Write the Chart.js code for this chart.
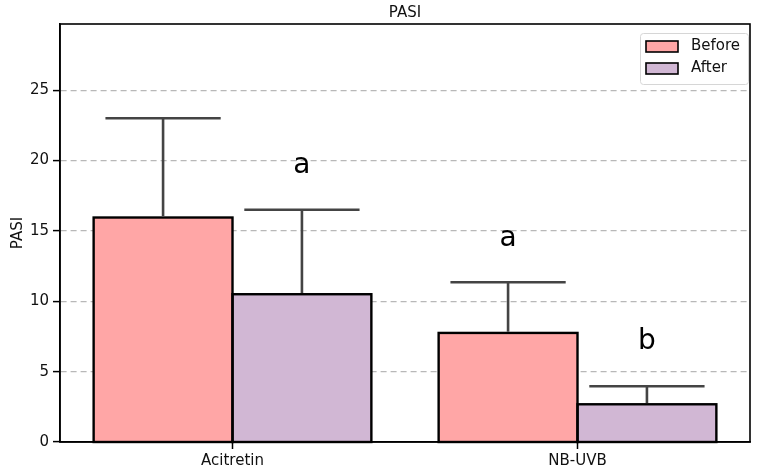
<!DOCTYPE html>
<html>
<head>
<meta charset="utf-8">
<script src="https://cdn.jsdelivr.net/npm/chart.js@4/dist/chart.umd.min.js"></script>
<style>
html,body{margin:0;padding:0;background:#fff;}
canvas{display:block;}
</style>
</head>
<body>
<canvas id="c" width="766" height="473"></canvas>
<script>
const categories = ['Acitretin', 'NB-UVB'];
const seriesLabels = ['Before', 'After'];
const beforeValues = [15.95, 7.75];
const afterValues = [10.5, 2.68];
const beforeErrTop = [23.0, 11.35];
const afterErrTop = [16.5, 3.96];
const beforeLetters = ['', 'a'];
const afterLetters = ['a', 'b'];
const beforeLetterY = [null, 13.96];
const afterLetterY = [19.1, 6.58];
const yTickValues = [0, 5, 10, 15, 20, 25];
const chartTitle = 'PASI';
const yAxisTitle = 'PASI';

const FONT = "'DejaVu Sans', sans-serif";
const TXT = '#111111';
const colors = ['#ffa6a6', '#d1b7d4'];

const extras = {
  id: 'extras',
  afterDatasetsDraw(chart) {
    const ctx = chart.ctx;
    const y = chart.scales.y;
    const base = y.getPixelForValue(0);
    const errs = [beforeErrTop, afterErrTop];
    const letters = [beforeLetters, afterLetters];
    const letterY = [beforeLetterY, afterLetterY];
    ctx.save();
    chart.data.datasets.forEach((ds, di) => {
      chart.getDatasetMeta(di).data.forEach(bar => {
        ctx.strokeStyle = '#000';
        ctx.lineWidth = 2.4;
        ctx.strokeRect(bar.x - bar.width / 2, bar.y, bar.width, base - bar.y);
      });
    });
    chart.data.datasets.forEach((ds, di) => {
      const meta = chart.getDatasetMeta(di);
      meta.data.forEach((bar, i) => {
        const x = bar.x;
        const half = bar.width * 0.415;
        const yTop = y.getPixelForValue(errs[di][i]);
        ctx.strokeStyle = '#444444';
        ctx.lineWidth = 2.6;
        ctx.lineCap = 'butt';
        ctx.beginPath();
        ctx.moveTo(x, bar.y - 1.2);
        ctx.lineTo(x, yTop);
        ctx.moveTo(x - half, yTop);
        ctx.lineTo(x + half, yTop);
        ctx.stroke();
        const L = letters[di][i];
        if (L) {
          ctx.fillStyle = '#000';
          ctx.font = '28px ' + FONT;
          ctx.textAlign = 'center';
          ctx.textBaseline = 'alphabetic';
          ctx.fillText(L, x, y.getPixelForValue(letterY[di][i]));
        }
      });
    });
    ctx.restore();
  },
  afterDraw(chart) {
    const ctx = chart.ctx;
    const a = chart.chartArea;
    ctx.save();
    ctx.strokeStyle = '#000';
    ctx.lineWidth = 1.6;
    ctx.strokeRect(a.left, a.top, a.right - a.left, a.bottom - a.top);
    ctx.fillStyle = TXT;
    ctx.font = '15px ' + FONT;
    ctx.textAlign = 'center';
    ctx.textBaseline = 'middle';
    ctx.fillText(chartTitle, (a.left + a.right) / 2, 13);
    const bx = a.right - 110, by = a.top + 9, bw = 108, bh = 51;
    ctx.fillStyle = 'rgba(255,255,255,0.85)';
    ctx.strokeStyle = '#d6d6d6';
    ctx.lineWidth = 1;
    ctx.beginPath();
    if (ctx.roundRect) ctx.roundRect(bx + 0.5, by + 0.5, bw, bh, 3); else ctx.rect(bx + 0.5, by + 0.5, bw, bh);
    ctx.fill();
    ctx.stroke();
    chart.data.datasets.forEach((ds, di) => {
      const sy = by + 8 + di * 22;
      ctx.fillStyle = ds.backgroundColor;
      ctx.fillRect(bx + 6, sy, 32, 11);
      ctx.strokeStyle = '#000';
      ctx.lineWidth = 1.6;
      ctx.strokeRect(bx + 6, sy, 32, 11);
      ctx.fillStyle = TXT;
      ctx.font = '15px ' + FONT;
      ctx.textAlign = 'left';
      ctx.textBaseline = 'middle';
      ctx.fillText(ds.label, bx + 51, sy + 5.5);
    });
    ctx.restore();
  }
};

new Chart(document.getElementById('c'), {
  type: 'bar',
  data: {
    labels: categories,
    datasets: [
      { label: seriesLabels[0], data: beforeValues, backgroundColor: colors[0] },
      { label: seriesLabels[1], data: afterValues, backgroundColor: colors[1] }
    ]
  },
  options: {
    responsive: false,
    animation: false,
    devicePixelRatio: 1,
    layout: { padding: { top: 24, right: 16, left: 0, bottom: 0 } },
    datasets: {
      bar: {
        categoryPercentage: 0.805,
        barPercentage: 1.0,
        borderWidth: 0,
        inflateAmount: 0.5
      }
    },
    plugins: {
      legend: { display: false },
      title: { display: false },
      tooltip: { enabled: false }
    },
    scales: {
      x: {
        offset: true,
        grid: {
          offset: false,
          drawOnChartArea: false,
          tickLength: 7,
          tickColor: '#000',
          tickWidth: 1.5
        },
        border: { display: true, color: '#000', width: 1.6 },
        ticks: { color: TXT, font: { family: FONT, size: 15 }, padding: 3 },
        afterFit(s) { s.height = 31; }
      },
      y: {
        min: 0,
        max: 29.7,
        grid: {
          color: '#b8b8b8',
          lineWidth: 1.2,
          tickLength: 7,
          tickColor: '#000',
          tickWidth: 1.5,
          tickBorderDash: []
        },
        border: { display: true, color: '#000', width: 1.6, dash: [6, 4] },
        ticks: { color: TXT, font: { family: FONT, size: 15 }, padding: 4 },
        afterBuildTicks(s) { s.ticks = yTickValues.map(v => ({ value: v })); },
        title: { display: true, text: yAxisTitle, color: TXT, font: { family: FONT, size: 15 }, padding: { top: 9, bottom: 0 } },
        afterFit(s) { s.width = 60; }
      }
    }
  },
  plugins: [extras]
});
</script>
</body>
</html>
